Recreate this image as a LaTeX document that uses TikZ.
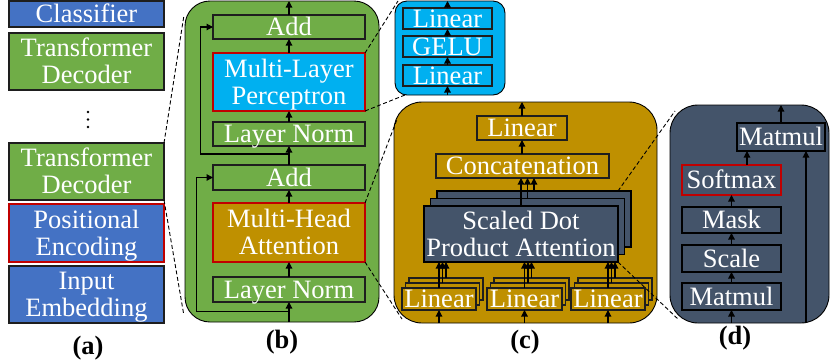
\documentclass[tikz,border=0pt]{standalone}
\usepackage{fontspec}
\setmainfont{Liberation Serif}
\usetikzlibrary{arrows.meta,calc}

\definecolor{cblue}{HTML}{4472C4}
\definecolor{cgreen}{HTML}{70AD47}
\definecolor{ccyan}{HTML}{00B0F0}
\definecolor{cgold}{HTML}{BF9000}
\definecolor{cslate}{HTML}{44546A}
\definecolor{cred}{HTML}{C00000}
\definecolor{cedge}{HTML}{1E1E1E}

% two centred lines, 27pt apart, box reference at the last baseline
\newcommand\duo[2]{\vbox{\baselineskip=27pt\lineskiplimit=-60pt\lineskip=0pt
  \halign{\hfil##\hfil\cr#1\cr#2\cr}}}

\begin{document}
\begin{tikzpicture}[x=1pt,y=-1pt,
  every node/.style={inner sep=0pt, outer sep=0pt},
  blk/.style={draw=cedge, line width=1.1pt, text=white,
    font=\fontsize{26.5}{27}\selectfont, text height=17.5pt, text depth=0pt},
  two/.style={text height=44.5pt},
  hl/.style={draw=cred, line width=2pt},
  panel/.style={draw=black, line width=0.9pt, rounded corners=#1},
  flow/.style={line width=1.2pt, -{Triangle[length=6.5pt,width=6.5pt]}},
  zoomline/.style={draw=black, line width=0.9pt, dash pattern=on 4pt off 2.5pt},
  tag/.style={font=\fontsize{26.5}{27}\selectfont\bfseries, text height=17.5pt, text depth=0pt}
]
\useasboundingbox (0,0) rectangle (830,360);

% ---------------- (a) overall stack ----------------
\node[blk, fill=cblue, minimum width=155pt, minimum height=26pt] (cls) at (86.5,14) {Classifier};
\node[blk, two, fill=cgreen, minimum width=155pt, minimum height=57pt] (dec1) at (86.5,61.5) {\duo{Transformer}{Decoder}};
\foreach \y in {112,119.5,127} \fill (88,\y) circle (1.3pt);
\node[blk, two, fill=cgreen, minimum width=155pt, minimum height=57pt] (dec2) at (86.5,171.5) {\duo{Transformer}{Decoder}};
\node[blk, two, hl, fill=cblue, minimum width=155pt, minimum height=58pt] (pos) at (86.5,233) {\duo{Positional}{Encoding}};
\node[blk, two, fill=cblue, minimum width=155pt, minimum height=57pt] (emb) at (86.5,294.5) {\duo{Input}{Embedding}};
\node[tag] (taga) at (88,346) {(a)};

% ---------------- (b) decoder block ----------------
\node[panel=25pt, fill=cgreen, minimum width=194pt, minimum height=321pt] (pb) at (282,161.5) {};
\node[blk, fill=cgreen, minimum width=152pt, minimum height=24pt] (add1) at (289,27) {Add};
\node[blk, two, hl, fill=ccyan, minimum width=152pt, minimum height=58pt] (mlp) at (289,82) {\duo{Multi-Layer}{Perceptron}};
\node[blk, fill=cgreen, minimum width=152pt, minimum height=24pt] (ln1) at (289,134) {Layer Norm};
\node[blk, fill=cgreen, minimum width=152pt, minimum height=25pt] (add2) at (289,177.5) {Add};
\node[blk, two, hl, fill=cgold, minimum width=152pt, minimum height=59pt] (mha) at (289,232.5) {\duo{Multi-Head}{Attention}};
\node[blk, fill=cgreen, minimum width=152pt, minimum height=25pt] (ln2) at (289,289.5) {Layer Norm};
\node[tag] (tagb) at (282,340) {(b)};

\draw[flow] (pb.south -| ln2.center) -- (ln2.south);
\draw[flow] (ln2.north) -- (mha.south);
\draw[flow] (mha.north) -- (add2.south);
\draw[flow] (add2.north) -- (ln1.south);
\draw[flow] (ln1.north) -- (mlp.south);
\draw[flow] (mlp.north) -- (add1.south);
\draw[flow] (add1.north) -- (add1.north |- pb.north);
\coordinate (r1) at (289,311.7);
\coordinate (r2) at (289,154);
\draw[flow] (r1) -- ++(-92.3,0) |- (add2.west);
\draw[flow] (r2) -- ++(-88.3,0) |- (add1.west);

% ---------------- MLP detail ----------------
\node[panel=12pt, fill=ccyan, minimum width=110pt, minimum height=94pt] (pm) at (450,48) {};
\node[blk, fill=ccyan, minimum width=89pt, minimum height=21pt] (mlin2) at (447.5,18.5) {Linear};
\node[blk, fill=ccyan, minimum width=89pt, minimum height=21pt] (gelu) at (447.5,46.5) {GELU};
\node[blk, fill=ccyan, minimum width=89pt, minimum height=21pt] (mlin1) at (447.5,75.5) {Linear};
\draw[flow] (pm.south -| mlin1.center) -- (mlin1.south);
\draw[flow] (mlin1.north) -- (gelu.south);
\draw[flow] (gelu.north) -- (mlin2.south);
\draw[flow] (mlin2.north) -- (mlin2.north |- pm.north);

% ---------------- (c) multi-head attention ----------------
\node[panel=28pt, fill=cgold, minimum width=263pt, minimum height=221pt] (pc) at (525.5,212.5) {};
\node[blk, fill=cgold, minimum width=90pt, minimum height=24pt] (linc) at (522,128) {Linear};
\node[blk, fill=cgold, minimum width=173pt, minimum height=24pt] (concat) at (522.5,166) {Concatenation};
\node[blk, draw=black, fill=cslate, minimum width=194pt, minimum height=56pt] (sd3) at (534,219) {};
\node[blk, draw=black, fill=cslate, minimum width=194pt, minimum height=56pt] (sd2) at (527.5,226.5) {};
\node[blk, two, draw=black, fill=cslate, minimum width=194pt, minimum height=56pt] (sd1) at (521,234) {\duo{Scaled Dot}{Product Attention}};
\foreach \n/\x/\w in {p/439/74, q/524.5/75, r/608/74} {
  \node[blk, fill=cgold, minimum width=\w pt, minimum height=22pt] (\n3) at (\x+7,289) {};
  \node[blk, fill=cgold, minimum width=\w pt, minimum height=22pt] (\n2) at (\x+3.5,294) {};
  \node[blk, fill=cgold, minimum width=\w pt, minimum height=22pt] (\n1) at (\x,299) {Linear};
  \draw[flow] (pc.south -| \n1.center) -- (\n1.south);
  \draw[flow] (\n1.north) -- (\n1.north |- sd1.south);
  \draw[flow] (\n2.north) -- (\n2.north |- sd1.south);
  \draw[flow] (\n3.north) -- (\n3.north |- sd1.south);
}
\draw[flow] (sd1.north) -- (sd1.north |- concat.south);
\draw[flow] (sd2.north) -- (sd2.north |- concat.south);
\draw[flow] (sd3.north) -- (sd3.north |- concat.south);
\draw[flow] (concat.north -| linc.center) -- (linc.south);
\draw[flow] (linc.north) -- (linc.north |- pc.north);
\node[tag] (tagc) at (525,340) {(c)};

% ---------------- (d) scaled dot product attention ----------------
\node[panel=28pt, draw=black, fill=cslate, minimum width=159pt, minimum height=218pt] (pd) at (749.5,214) {};
\node[blk, draw=black, fill=cslate, minimum width=88pt, minimum height=28pt] (mm2) at (781,137) {Matmul};
\node[blk, hl, fill=cslate, minimum width=99pt, minimum height=30pt] (soft) at (731.5,180) {Softmax};
\node[blk, draw=black, fill=cslate, minimum width=99pt, minimum height=26pt] (mask) at (731.5,220) {Mask};
\node[blk, draw=black, fill=cslate, minimum width=99pt, minimum height=27pt] (scale) at (731.5,258.5) {Scale};
\node[blk, draw=black, fill=cslate, minimum width=99pt, minimum height=27pt] (mm1) at (731.5,296.5) {Matmul};
\draw[flow] (pd.south -| mm1.center) -- (mm1.south);
\draw[flow] (mm1.north) -- (scale.south);
\draw[flow] (scale.north) -- (mask.south);
\draw[flow] (mask.north) -- (soft.south);
\coordinate (sm) at ($(soft.north)+(15.5,0)$);
\draw[flow] (sm) -- (sm |- mm2.south);
\coordinate (vin) at ($(mm2.south)+(25,0)$);
\draw[flow] (pd.south -| vin) -- (vin);
\draw[flow] (mm2.north) -- (mm2.north |- pd.north);
\node[tag] (tagd) at (735,336) {(d)};

% ---------------- zoom guides ----------------
\coordinate (gb1) at (184,15);
\coordinate (gb2) at (183.5,313);
\coordinate (gm1) at (398,1);
\coordinate (gm2) at (405,95);
\coordinate (gc1) at (397.5,118);
\coordinate (gc2) at (402,319);
\coordinate (gd1) at (675,111);
\coordinate (gd2) at (679,320);
\draw[zoomline] (dec2.north east) -- (gb1);
\draw[zoomline] (dec2.south east) -- (gb2);
\draw[zoomline] (mlp.north east) -- (gm1);
\draw[zoomline] (mlp.south east) -- (gm2);
\draw[zoomline] (mha.north east) -- (gc1);
\draw[zoomline] (mha.south east) -- (gc2);
\draw[zoomline] (sd1.east |- sd3.north) -- (gd1);
\draw[zoomline] (sd1.south east) -- (gd2);
\end{tikzpicture}
\end{document}
